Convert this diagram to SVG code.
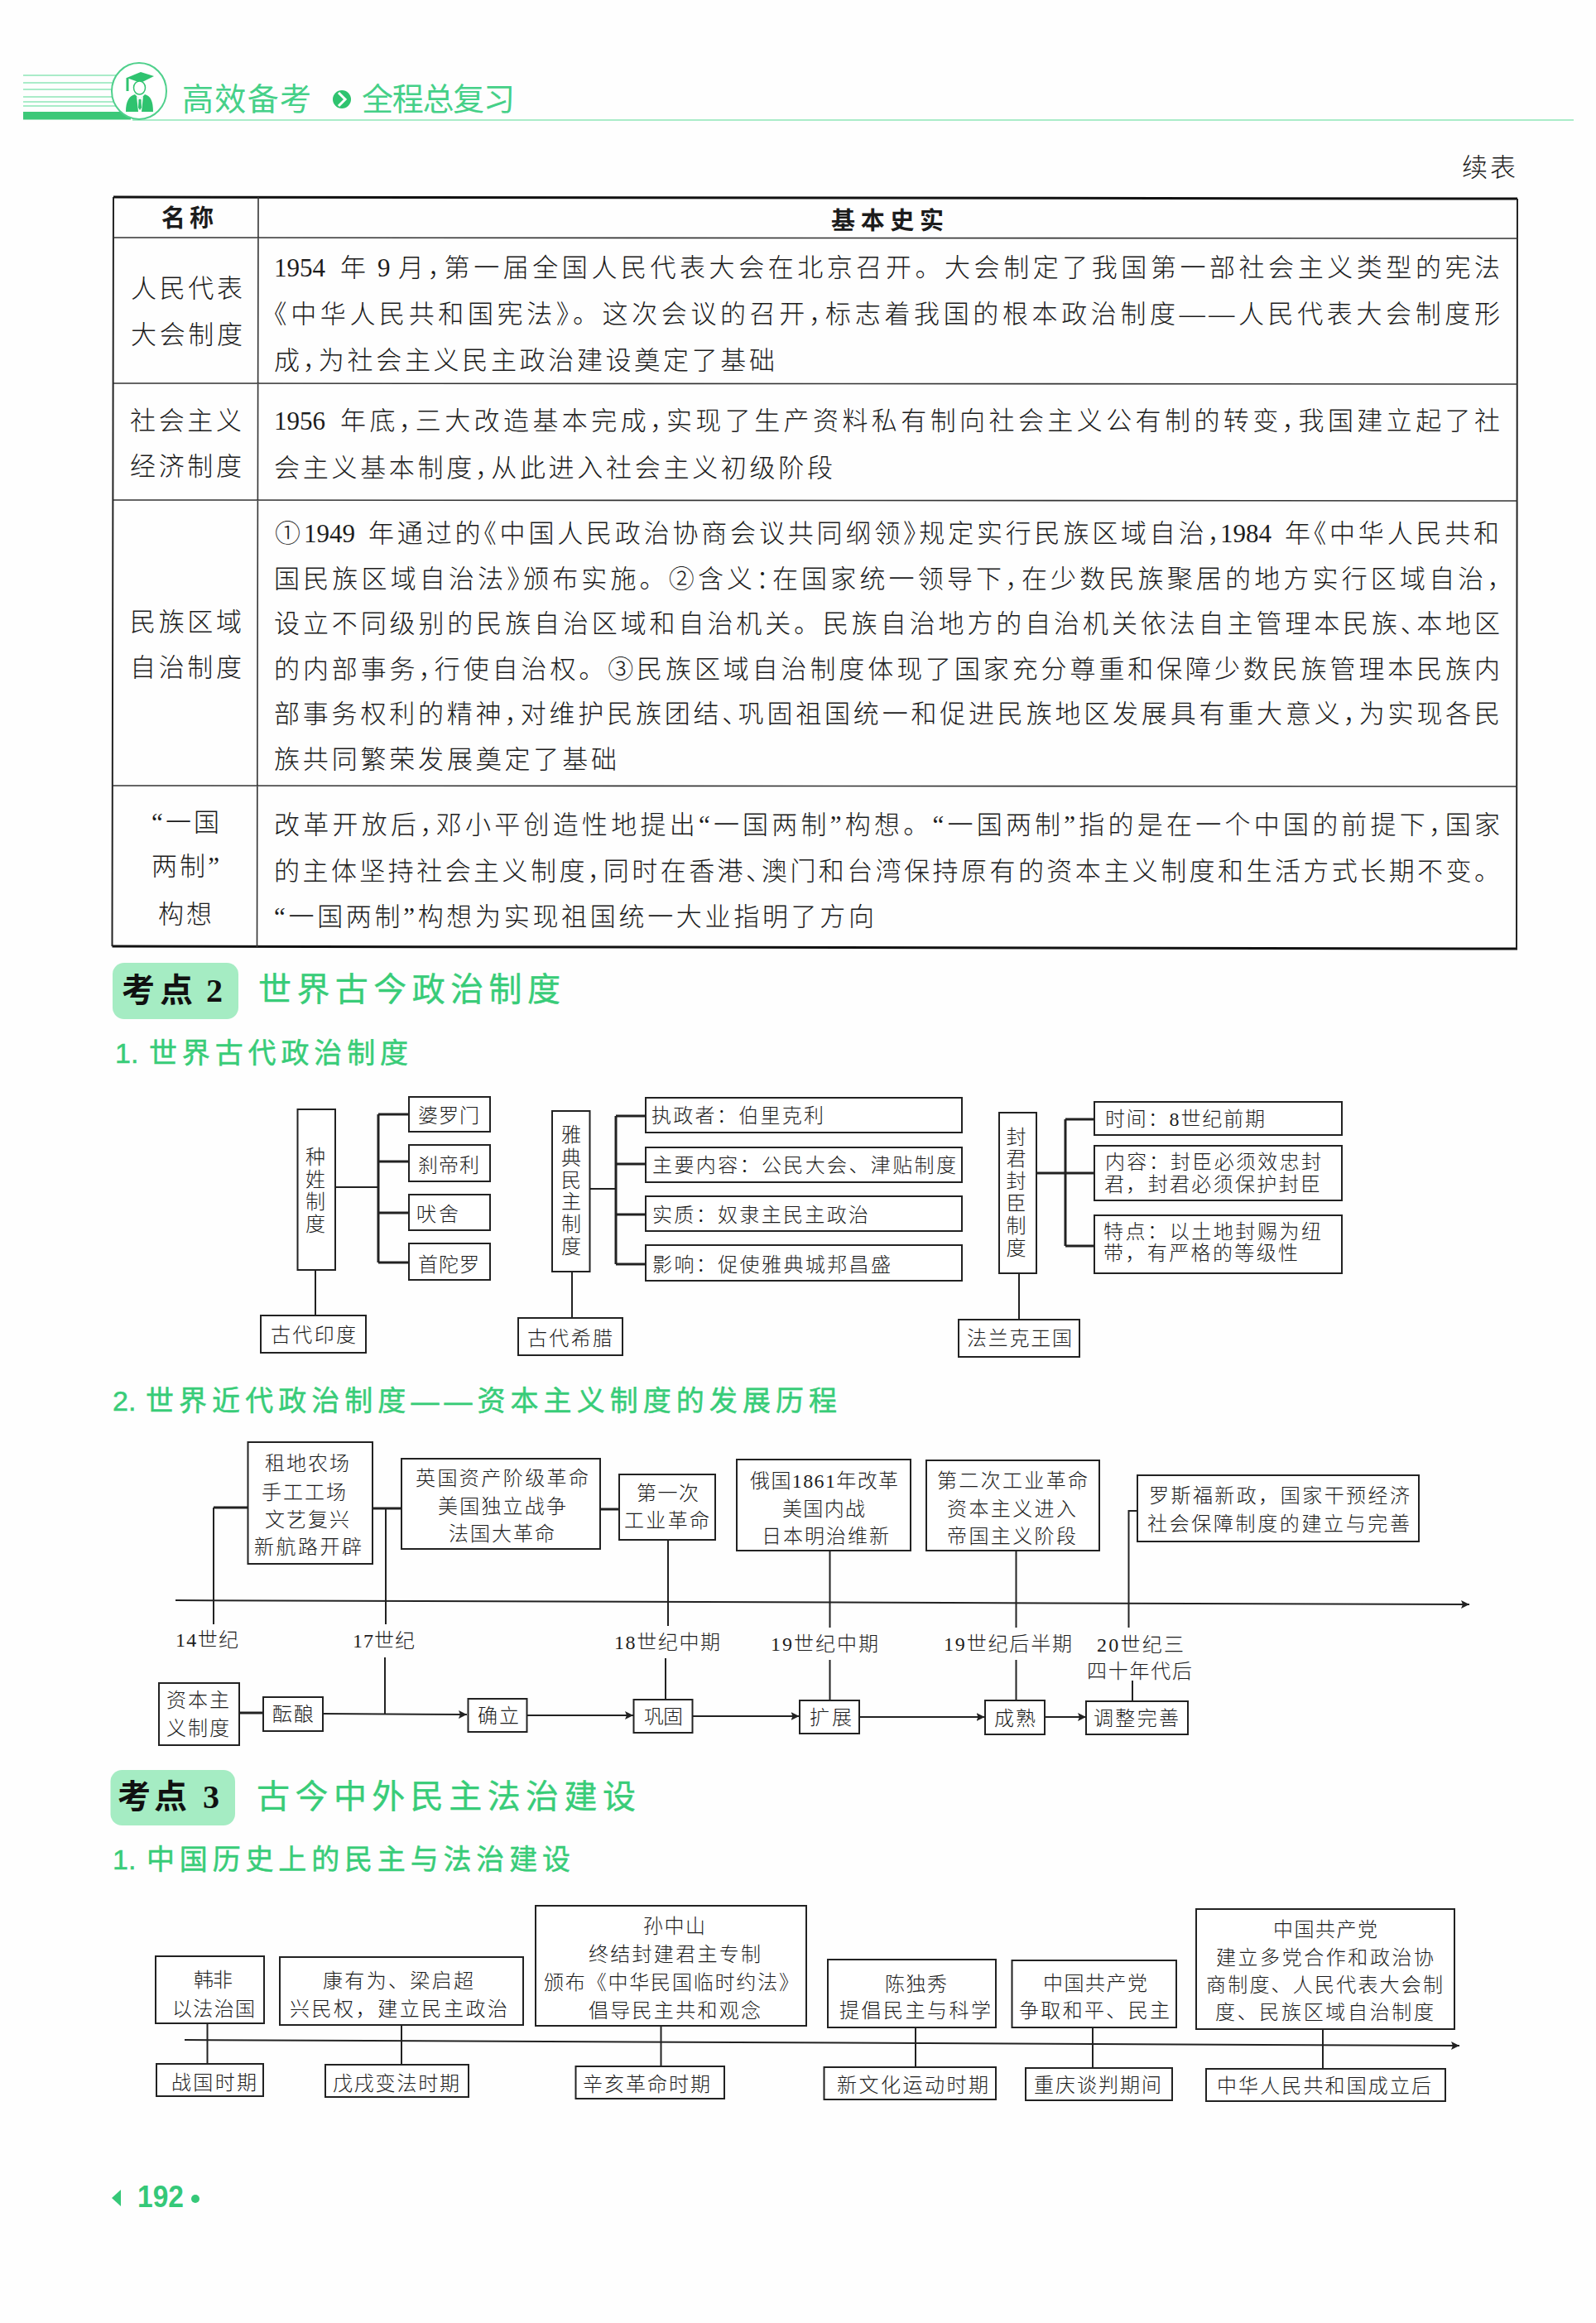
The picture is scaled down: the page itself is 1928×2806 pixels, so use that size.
<svg xmlns="http://www.w3.org/2000/svg" width="1928" height="2806" viewBox="0 0 1928 2806">
<style>
text{font-family:"Liberation Serif","Noto Sans CJK SC",sans-serif;fill:#1c1c1c;font-weight:300;white-space:pre}
.t{font-size:31px;font-feature-settings:"halt"}
.fw{font-feature-settings:normal}
.th{font-size:29px;font-weight:700}
.d{font-size:24px}
.h1{font-family:"Noto Sans CJK SC",sans-serif;font-size:40px;fill:#38cc78;font-weight:400;stroke:#38cc78;stroke-width:.4}
.h2{font-family:"Liberation Sans","Noto Sans CJK SC",sans-serif;font-size:34px;fill:#38cc78;font-weight:400;stroke:#38cc78;stroke-width:.5}
.bd{font-family:"Liberation Serif","Noto Sans CJK SC",sans-serif;font-size:40px;font-weight:700;fill:#111}
.hd{font-family:"Noto Sans CJK SC",sans-serif;font-size:38px;fill:#45d088;font-weight:400}
.b{fill:#fff;stroke:#222;stroke-width:2}
.l{stroke:#222;stroke-width:2;fill:none}
.m{stroke:#222;stroke-width:3;fill:none}
.tb{stroke:#333;stroke-width:1.6;fill:none}
.to{stroke:#111;stroke-width:3;fill:none}
.ts{stroke:#222;stroke-width:2;fill:none}
.gl{stroke:#8fe6b8;stroke-width:1.5;fill:none}
.badge{fill:#a5ecc3}
</style>
<defs>
<marker id="arr" markerUnits="userSpaceOnUse" markerWidth="12" markerHeight="12" refX="10" refY="6" orient="auto"><path d="M0,1 L10,6 L0,11 L2,6 Z" fill="#222"/></marker>
</defs>
<rect width="1928" height="2806" fill="#fefefe"/>

<g id="header">
<path class="gl" d="M28 91H140M28 100H138M28 108H137M28 117H137M28 123H138M28 128H140M160 145H1901"/>
<rect x="28" y="135" width="130" height="9.500" fill="#3cc878"/>
<ellipse cx="168" cy="110" rx="33" ry="34" fill="#fff" stroke="#4fd08c" stroke-width="2"/>
<path d="M153 94L170 87L186 92L170 100Z" fill="#2fc36f"/>
<path d="M154 94V110" stroke="#2fc36f" stroke-width="3" fill="none"/>
<ellipse cx="168.500" cy="106" rx="7" ry="8" fill="#fff" stroke="#2fc36f" stroke-width="1.500"/>
<path d="M152 135C152 122 156 116 163 114L169 120L175 114C182 116 185 122 185 135Z" fill="#2fc36f"/>
<path d="M165 116L169 120L173 116L171 135H167Z" fill="#fff"/><path d="M167.500 120H170.500L171 130L169 133L167 130Z" fill="#2fc36f"/>
<text class="hd" x="220" y="133" textLength="156">高效备考</text>
<circle cx="413" cy="120" r="11" fill="#2fc36f"/><path d="M409 112L417 120L409 128" fill="none" stroke="#fff" stroke-width="3"/>
<text class="hd" x="437" y="133" textLength="185">全程总复习</text>
</g>

<g id="continued"><text class="t" x="1766" y="213" textLength="65">续表</text></g>

<g id="table">
<path class="to" d="M137 238L1833 240M135.500 1143L1833 1146"/>
<path class="ts" d="M137 238L135.500 1143M1833 240L1832 1146"/>
<path class="tb" d="M312 238L310.500 1144M137 287L1833 288M137 463L1833 464M137 604L1833 605M136 949L1833 950"/>
<text class="th" x="195" y="274" textLength="63">名称</text>
<text class="th" x="1004" y="277" textLength="136">基本史实</text>
<text class="t" x="158" y="359" textLength="135">人民代表</text>
<text class="t" x="158" y="415" textLength="135">大会制度</text>
<text class="t" x="331" y="334">1954</text><text class="t" x="411" y="334">年</text><text class="t" x="456" y="334">9</text>
<text class="t" x="481" y="334" textLength="1331">月，第一届全国人民代表大会在北京召开<tspan class="fw">。</tspan>大会制定了我国第一部社会主义类型的宪法</text>
<text class="t" x="331" y="390" textLength="1481">《中华人民共和国宪法》<tspan class="fw">。</tspan>这次会议的召开，标志着我国的根本政治制度——人民代表大会制度形</text>
<text class="t" x="331" y="446" textLength="605">成，为社会主义民主政治建设奠定了基础</text>
<text class="t" x="157" y="519" textLength="135">社会主义</text>
<text class="t" x="157" y="574" textLength="135">经济制度</text>
<text class="t" x="331" y="519">1956</text>
<text class="t" x="411" y="519" textLength="1401">年底，三大改造基本完成，实现了生产资料私有制向社会主义公有制的转变，我国建立起了社</text>
<text class="t" x="331" y="576" textLength="675">会主义基本制度，从此进入社会主义初级阶段</text>
<text class="t" x="157" y="762" textLength="135">民族区域</text>
<text class="t" x="157" y="817" textLength="135">自治制度</text>
<text class="t" x="332" y="655">①</text><text class="t" x="367" y="655">1949</text>
<text class="t" x="445" y="655" textLength="1029">年通过的《中国人民政治协商会议共同纲领》规定实行民族区域自治，</text>
<text class="t" x="1474" y="655">1984</text>
<text class="t" x="1552" y="655" textLength="259">年《中华人民共和</text>
<text class="t" x="331" y="710" textLength="1481">国民族区域自治法》颁布实施<tspan class="fw">。</tspan>②含义：在国家统一领导下，在少数民族聚居的地方实行区域自治，</text>
<text class="t" x="331" y="764" textLength="1481">设立不同级别的民族自治区域和自治机关<tspan class="fw">。</tspan>民族自治地方的自治机关依法自主管理本民族、本地区</text>
<text class="t" x="331" y="819" textLength="1481">的内部事务，行使自治权<tspan class="fw">。</tspan>③民族区域自治制度体现了国家充分尊重和保障少数民族管理本民族内</text>
<text class="t" x="331" y="873" textLength="1481">部事务权利的精神，对维护民族团结、巩固祖国统一和促进民族地区发展具有重大意义，为实现各民</text>
<text class="t" x="331" y="928" textLength="414">族共同繁荣发展奠定了基础</text>
<text class="t" x="183" y="1004" textLength="82">“一国</text>
<text class="t" x="183" y="1057" textLength="82">两制”</text>
<text class="t" x="191" y="1115" textLength="65">构想</text>
<text class="t" x="331" y="1007" textLength="1481">改革开放后，邓小平创造性地提出“一国两制”构想<tspan class="fw">。</tspan>“一国两制”指的是在一个中国的前提下，国家</text>
<text class="t" x="331" y="1063" textLength="1481">的主体坚持社会主义制度，同时在香港、澳门和台湾保持原有的资本主义制度和生活方式长期不变<tspan class="fw">。</tspan></text>
<text class="t" x="331" y="1118" textLength="725">“一国两制”构想为实现祖国统一大业指明了方向</text>
</g>

<g id="section2">
<rect class="badge" x="136" y="1163" width="152" height="68" rx="14"/>
<text class="bd" x="147" y="1210" textLength="86">考点</text><text class="bd" x="249" y="1210">2</text>
<text class="h1" x="312" y="1209" textLength="365">世界古今政治制度</text>
<text class="h2" x="139" y="1284">1.</text><text class="h2" x="180" y="1284" textLength="313">世界古代政治制度</text>
<text class="h2" x="136" y="1704">2.</text><text class="h2" x="176" y="1704" textLength="835">世界近代政治制度——资本主义制度的发展历程</text>
</g>

<g id="connectors">
<path class="l" d="M405 1434H457"/><path class="m" d="M457 1346V1525M457 1346H494M457 1403H494M457 1465H494M457 1525H494"/>
<path class="l" d="M381 1534V1589"/>
<path class="l" d="M712 1436H744"/><path class="m" d="M744 1348V1527M744 1348H780M744 1406H780M744 1467H780M744 1527H780"/>
<path class="l" d="M691 1536V1592"/>
<path class="m" d="M1252 1417H1322M1287 1352V1505M1287 1352H1322M1287 1505H1322"/>
<path class="l" d="M1231 1538V1594"/>
<path class="m" d="M299 1821H258M450 1822H485M725 1823H748"/>
<path class="l" d="M258 1821V1962M466 1822V1962M807 1860V1964M1002.500 1873V1966M1227.500 1873V1966M1374 1825H1363.500V1966"/>
<path class="l" d="M212 1933L1775 1938" marker-end="url(#arr)"/>
<path class="m" d="M289 2069H318"/>
<path class="l" d="M390 2070L564 2071" marker-end="url(#arr)"/>
<path class="l" d="M637 2072H765" marker-end="url(#arr)"/>
<path class="l" d="M836.500 2073H965.500" marker-end="url(#arr)"/>
<path class="l" d="M1038 2074H1189.500" marker-end="url(#arr)"/>
<path class="l" d="M1262 2074H1312" marker-end="url(#arr)"/>
<path class="l" d="M465 2002V2070M804 2003V2053M1002.500 2005V2054M1227.500 2005V2054M1368 2030V2055"/>
<path class="l" d="M223 2464L1763 2471" marker-end="url(#arr)"/>
<path class="l" d="M250.500 2444V2493M485 2446V2494M798.500 2447V2496M1106 2449V2497M1320 2449V2497M1598 2451V2498"/>
</g>

<g id="n-caste"><rect class="b" x="359.500" y="1340" width="45.500" height="194"/>
<text class="d" x="369" y="1406">种</text><text class="d" x="369" y="1433">姓</text><text class="d" x="369" y="1460">制</text><text class="d" x="369" y="1487">度</text></g>
<g id="n-brahmin"><rect class="b" x="494" y="1325" width="98" height="42"/><text class="d" x="505" y="1356" textLength="74">婆罗门</text></g>
<g id="n-kshatriya"><rect class="b" x="494" y="1383" width="98" height="44"/><text class="d" x="505" y="1416" textLength="74">刹帝利</text></g>
<g id="n-vaishya"><rect class="b" x="494" y="1443" width="98" height="43"/><text class="d" x="503" y="1475" textLength="51">吠舍</text></g>
<g id="n-shudra"><rect class="b" x="494" y="1502" width="98" height="44"/><text class="d" x="505" y="1536" textLength="74">首陀罗</text></g>
<g id="n-india"><rect class="b" x="315" y="1589" width="127" height="45"/><text class="d" x="327" y="1621" textLength="103">古代印度</text></g>

<g id="n-athens"><rect class="b" x="667" y="1342" width="45.500" height="194"/>
<text class="d" x="678" y="1379">雅</text><text class="d" x="678" y="1407">典</text><text class="d" x="678" y="1434">民</text><text class="d" x="678" y="1460">主</text><text class="d" x="678" y="1487">制</text><text class="d" x="678" y="1514">度</text></g>
<g id="n-a1"><rect class="b" x="780" y="1326" width="382" height="42"/><text class="d" x="787" y="1356" textLength="208">执政者：伯里克利</text></g>
<g id="n-a2"><rect class="b" x="780" y="1386" width="382" height="42"/><text class="d" x="788" y="1416" textLength="367">主要内容：公民大会、津贴制度</text></g>
<g id="n-a3"><rect class="b" x="780" y="1445" width="382" height="42"/><text class="d" x="788" y="1476" textLength="261">实质：奴隶主民主政治</text></g>
<g id="n-a4"><rect class="b" x="780" y="1504" width="382" height="43"/><text class="d" x="788" y="1536" textLength="288">影响：促使雅典城邦昌盛</text></g>
<g id="n-greece"><rect class="b" x="626" y="1592" width="126" height="45"/><text class="d" x="637" y="1625" textLength="103">古代希腊</text></g>

<g id="n-feudal"><rect class="b" x="1207" y="1344" width="45" height="194"/>
<text class="d" x="1215.500" y="1382">封</text><text class="d" x="1215.500" y="1408">君</text><text class="d" x="1215.500" y="1435">封</text><text class="d" x="1215.500" y="1462">臣</text><text class="d" x="1215.500" y="1489">制</text><text class="d" x="1215.500" y="1516">度</text></g>
<g id="n-f1"><rect class="b" x="1322" y="1331" width="299" height="40"/><text class="d" x="1335" y="1360" textLength="193">时间：8世纪前期</text></g>
<g id="n-f2"><rect class="b" x="1322" y="1384" width="299" height="66"/><text class="d" x="1335" y="1412" textLength="261">内容：封臣必须效忠封</text><text class="d" x="1334" y="1439" textLength="261">君，封君必须保护封臣</text></g>
<g id="n-f3"><rect class="b" x="1322" y="1468" width="299" height="70"/><text class="d" x="1333" y="1496" textLength="263">特点：以土地封赐为纽</text><text class="d" x="1333" y="1522" textLength="235">带，有严格的等级性</text></g>
<g id="n-frank"><rect class="b" x="1158" y="1594" width="146" height="45"/><text class="d" x="1168" y="1625" textLength="127">法兰克王国</text></g>

<g id="n-t1"><rect class="b" x="299.500" y="1742" width="150.500" height="147"/>
<text class="d" x="320" y="1776" textLength="102">租地农场</text><text class="d" x="316" y="1811" textLength="102">手工工场</text><text class="d" x="320" y="1844" textLength="102">文艺复兴</text><text class="d" x="307" y="1877" textLength="130">新航路开辟</text></g>
<g id="n-t2"><rect class="b" x="485" y="1762" width="240" height="109"/>
<text class="d" x="502" y="1794" textLength="209">英国资产阶级革命</text><text class="d" x="529" y="1828" textLength="155">美国独立战争</text><text class="d" x="542" y="1861" textLength="128">法国大革命</text></g>
<g id="n-t3"><rect class="b" x="748" y="1781" width="116" height="79"/>
<text class="d" x="769" y="1812" textLength="75">第一次</text><text class="d" x="754" y="1845" textLength="103">工业革命</text></g>
<g id="n-t4"><rect class="b" x="890" y="1763" width="210" height="110"/>
<text class="d" x="906" y="1797" textLength="179">俄国1861年改革</text><text class="d" x="945" y="1831" textLength="100">美国内战</text><text class="d" x="920" y="1864" textLength="154">日本明治维新</text></g>
<g id="n-t5"><rect class="b" x="1119" y="1764" width="209" height="109"/>
<text class="d" x="1132" y="1797" textLength="182">第二次工业革命</text><text class="d" x="1144" y="1831" textLength="156">资本主义进入</text><text class="d" x="1144" y="1864" textLength="156">帝国主义阶段</text></g>
<g id="n-t6"><rect class="b" x="1374" y="1782" width="340" height="80"/>
<text class="d" x="1388" y="1815" textLength="315">罗斯福新政，国家干预经济</text><text class="d" x="1386" y="1849" textLength="317">社会保障制度的建立与完善</text></g>

<g id="labels-century">
<text class="d" x="212" y="1989" textLength="76">14世纪</text>
<text class="d" x="426" y="1990" textLength="75">17世纪</text>
<text class="d" x="742" y="1992" textLength="128">18世纪中期</text>
<text class="d" x="931" y="1994" textLength="130">19世纪中期</text>
<text class="d" x="1140" y="1994" textLength="155">19世纪后半期</text>
<text class="d" x="1325" y="1995" textLength="105">20世纪三</text>
<text class="d" x="1313" y="2027" textLength="127">四十年代后</text>
</g>

<g id="n-s0"><rect class="b" x="192" y="2033" width="97" height="75"/><text class="d" x="201" y="2062" textLength="76">资本主</text><text class="d" x="201" y="2096" textLength="76">义制度</text></g>
<g id="n-s1"><rect class="b" x="318" y="2050" width="72" height="41"/><text class="d" x="329" y="2079" textLength="50">酝酿</text></g>
<g id="n-s2"><rect class="b" x="565.500" y="2052" width="71" height="40"/><text class="d" x="577" y="2081" textLength="50">确立</text></g>
<g id="n-s3"><rect class="b" x="765.500" y="2053" width="71" height="40"/><text class="d" x="778" y="2082" textLength="47">巩固</text></g>
<g id="n-s4"><rect class="b" x="966" y="2054" width="72" height="40"/><text class="d" x="978" y="2083" textLength="51">扩展</text></g>
<g id="n-s5"><rect class="b" x="1190" y="2054" width="72" height="41"/><text class="d" x="1201" y="2084" textLength="50">成熟</text></g>
<g id="n-s6"><rect class="b" x="1312" y="2055" width="123" height="40"/><text class="d" x="1321" y="2084" textLength="103">调整完善</text></g>

<g id="section3">
<rect class="badge" x="133.500" y="2138" width="150.500" height="67" rx="14"/>
<text class="bd" x="142" y="2184" textLength="84">考点</text><text class="bd" x="245" y="2184">3</text>
<text class="h1" x="310" y="2184" textLength="458">古今中外民主法治建设</text>
<text class="h2" x="136" y="2258">1.</text><text class="h2" x="177" y="2258" textLength="512">中国历史上的民主与法治建设</text>
</g>

<g id="n-c1"><rect class="b" x="188" y="2363" width="131" height="81"/><text class="d" x="234" y="2400" textLength="47">韩非</text><text class="d" x="208" y="2435" textLength="100">以法治国</text></g>
<g id="n-c1b"><rect class="b" x="189" y="2493" width="129" height="39"/><text class="d" x="207" y="2524" textLength="103">战国时期</text></g>
<g id="n-c2"><rect class="b" x="338" y="2364" width="294" height="82"/><text class="d" x="390" y="2401" textLength="182">康有为、梁启超</text><text class="d" x="350" y="2435" textLength="263">兴民权，建立民主政治</text></g>
<g id="n-c2b"><rect class="b" x="393" y="2494" width="173" height="39"/><text class="d" x="402" y="2525" textLength="153">戊戌变法时期</text></g>
<g id="n-c3"><rect class="b" x="647" y="2302" width="327" height="145"/><text class="d" x="777" y="2335" textLength="75">孙中山</text><text class="d" x="711" y="2369" textLength="208">终结封建君主专制</text><text class="d" x="657" y="2403" textLength="308">颁布《中华民国临时约法》</text><text class="d" x="711" y="2437" textLength="208">倡导民主共和观念</text></g>
<g id="n-c3b"><rect class="b" x="695.500" y="2496" width="179.500" height="39"/><text class="d" x="704" y="2526" textLength="154">辛亥革命时期</text></g>
<g id="n-c4"><rect class="b" x="1000" y="2367" width="203" height="82"/><text class="d" x="1069" y="2405" textLength="75">陈独秀</text><text class="d" x="1014" y="2437" textLength="183">提倡民主与科学</text></g>
<g id="n-c4b"><rect class="b" x="995.500" y="2497" width="207.500" height="39"/><text class="d" x="1011" y="2527" textLength="183">新文化运动时期</text></g>
<g id="n-c5"><rect class="b" x="1222.500" y="2368" width="198.500" height="81"/><text class="d" x="1260" y="2404" textLength="126">中国共产党</text><text class="d" x="1231" y="2437" textLength="182">争取和平、民主</text></g>
<g id="n-c5b"><rect class="b" x="1239" y="2498" width="177" height="39"/><text class="d" x="1249" y="2527" textLength="154">重庆谈判期间</text></g>
<g id="n-c6"><rect class="b" x="1445" y="2306" width="312" height="145"/><text class="d" x="1538" y="2339" textLength="126">中国共产党</text><text class="d" x="1469" y="2373" textLength="263">建立多党合作和政治协</text><text class="d" x="1457" y="2406" textLength="286">商制度、人民代表大会制</text><text class="d" x="1468" y="2439" textLength="264">度、民族区域自治制度</text></g>
<g id="n-c6b"><rect class="b" x="1457" y="2499" width="289" height="39"/><text class="d" x="1470" y="2528" textLength="259">中华人民共和国成立后</text></g>

<g id="page-number">
<path d="M146 2645L135 2655L146 2665Z" fill="#35c878"/>
<text x="166" y="2666" style="font-family:'Liberation Sans',sans-serif;font-size:36px;font-weight:700;fill:#35c878" textLength="56" lengthAdjust="spacingAndGlyphs">192</text>
<circle cx="236" cy="2656" r="5" fill="#35c878"/>
</g>
</svg>
